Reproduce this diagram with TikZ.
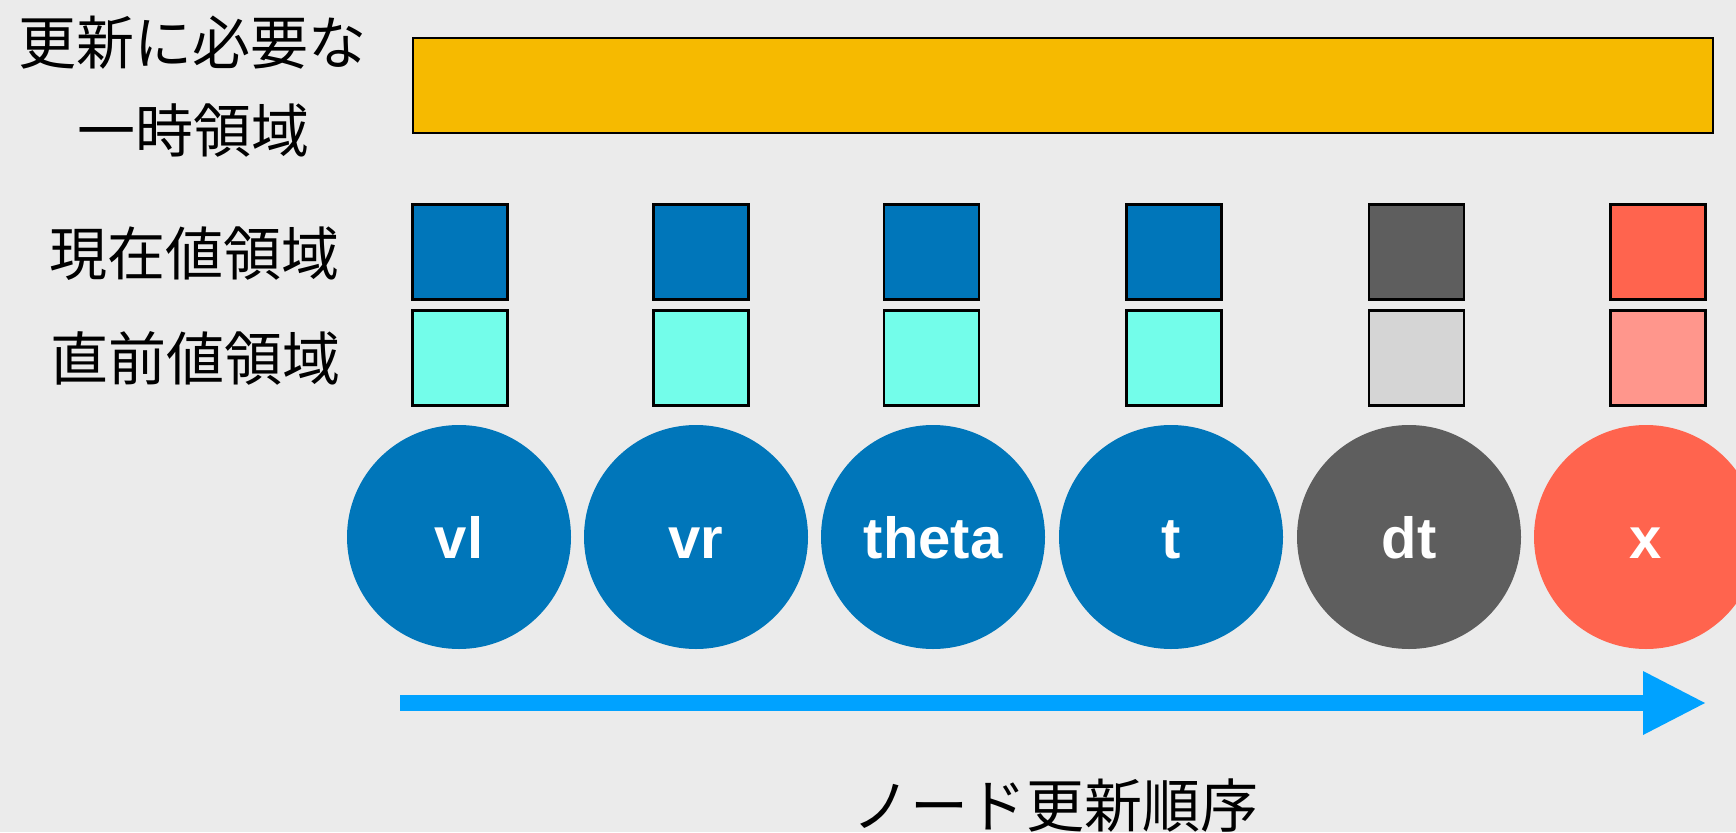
\documentclass[tikz,border=0pt]{standalone}
\usepackage{fontspec}
\setmainfont{Liberation Sans}
\newfontfamily\jpfont{Noto Sans CJK JP}
\definecolor{bgc}{HTML}{EBEBEB}
\definecolor{orangec}{HTML}{F6BA00}
\definecolor{bluec}{HTML}{0076BA}
\definecolor{cyanc}{HTML}{73FDEA}
\definecolor{dgrayc}{HTML}{5E5E5E}
\definecolor{lgrayc}{HTML}{D5D5D5}
\definecolor{redc}{HTML}{FF644E}
\definecolor{lredc}{HTML}{FF968C}
\definecolor{arrowc}{HTML}{00A2FF}
\tikzset{
  jplabel/.style={inner sep=0pt, font=\jpfont\fontsize{58}{68}\selectfont, text=black},
  cell/.style={draw=black, line width=2.6pt, minimum size=95pt, inner sep=0pt},
  varnode/.style={circle, minimum size=224pt, inner sep=0pt},
  varlabel/.style={anchor=base, inner sep=0pt, text=white, font=\fontsize{58}{68}\selectfont\bfseries},
}
\begin{document}
\begin{tikzpicture}[x=1pt,y=-1pt]
\fill[bgc] (0,0) rectangle (1736,832);
\useasboundingbox (0,0) rectangle (1736,832);
% labels
\node[jplabel] (l1a) at (192,43) {更新に必要な};
\node[jplabel] (l1b) at (193,131) {一時領域};
\node[jplabel] (l2) at (194,254) {現在値領域};
\node[jplabel] (l3) at (195,358) {直前値領域};
% temp area
\node[draw=black, line width=2.6pt, fill=orangec, minimum width=1300pt, minimum height=95pt, inner sep=0pt] (tmp) at (1063,85.5) {};
% cells
\foreach \n/\x/\ca/\cb in {vl/460/bluec/cyanc, vr/701/bluec/cyanc, theta/931.5/bluec/cyanc, t/1174/bluec/cyanc, dt/1416.5/dgrayc/lgrayc, x/1658/redc/lredc}{
  \node[cell, fill=\ca] (cur-\n) at (\x,252) {};
  \node[cell, fill=\cb] (prev-\n) at (\x,358) {};
}
% variable nodes
\foreach \n/\x/\c in {vl/459/bluec, vr/696/bluec, theta/933/bluec, t/1171/bluec, dt/1409/dgrayc, x/1646/redc}{
  \node[varnode, fill=\c] (\n) at (\x,537) {};
  \node[varlabel] (lab-\n) at (\x,558) {\n};
}
% order arrow
\coordinate (as) at (400,703);
\coordinate (ab) at (1643,703);
\coordinate (at) at (1705,703);
\fill[arrowc] (400,695) -- (1644,695) -- (1644,711) -- (400,711) -- cycle;
\fill[arrowc] (1643,671) -- (at) -- (1643,735) -- cycle;
\node[jplabel] (order) at (1055,806) {ノード更新順序};
\end{tikzpicture}
\end{document}
